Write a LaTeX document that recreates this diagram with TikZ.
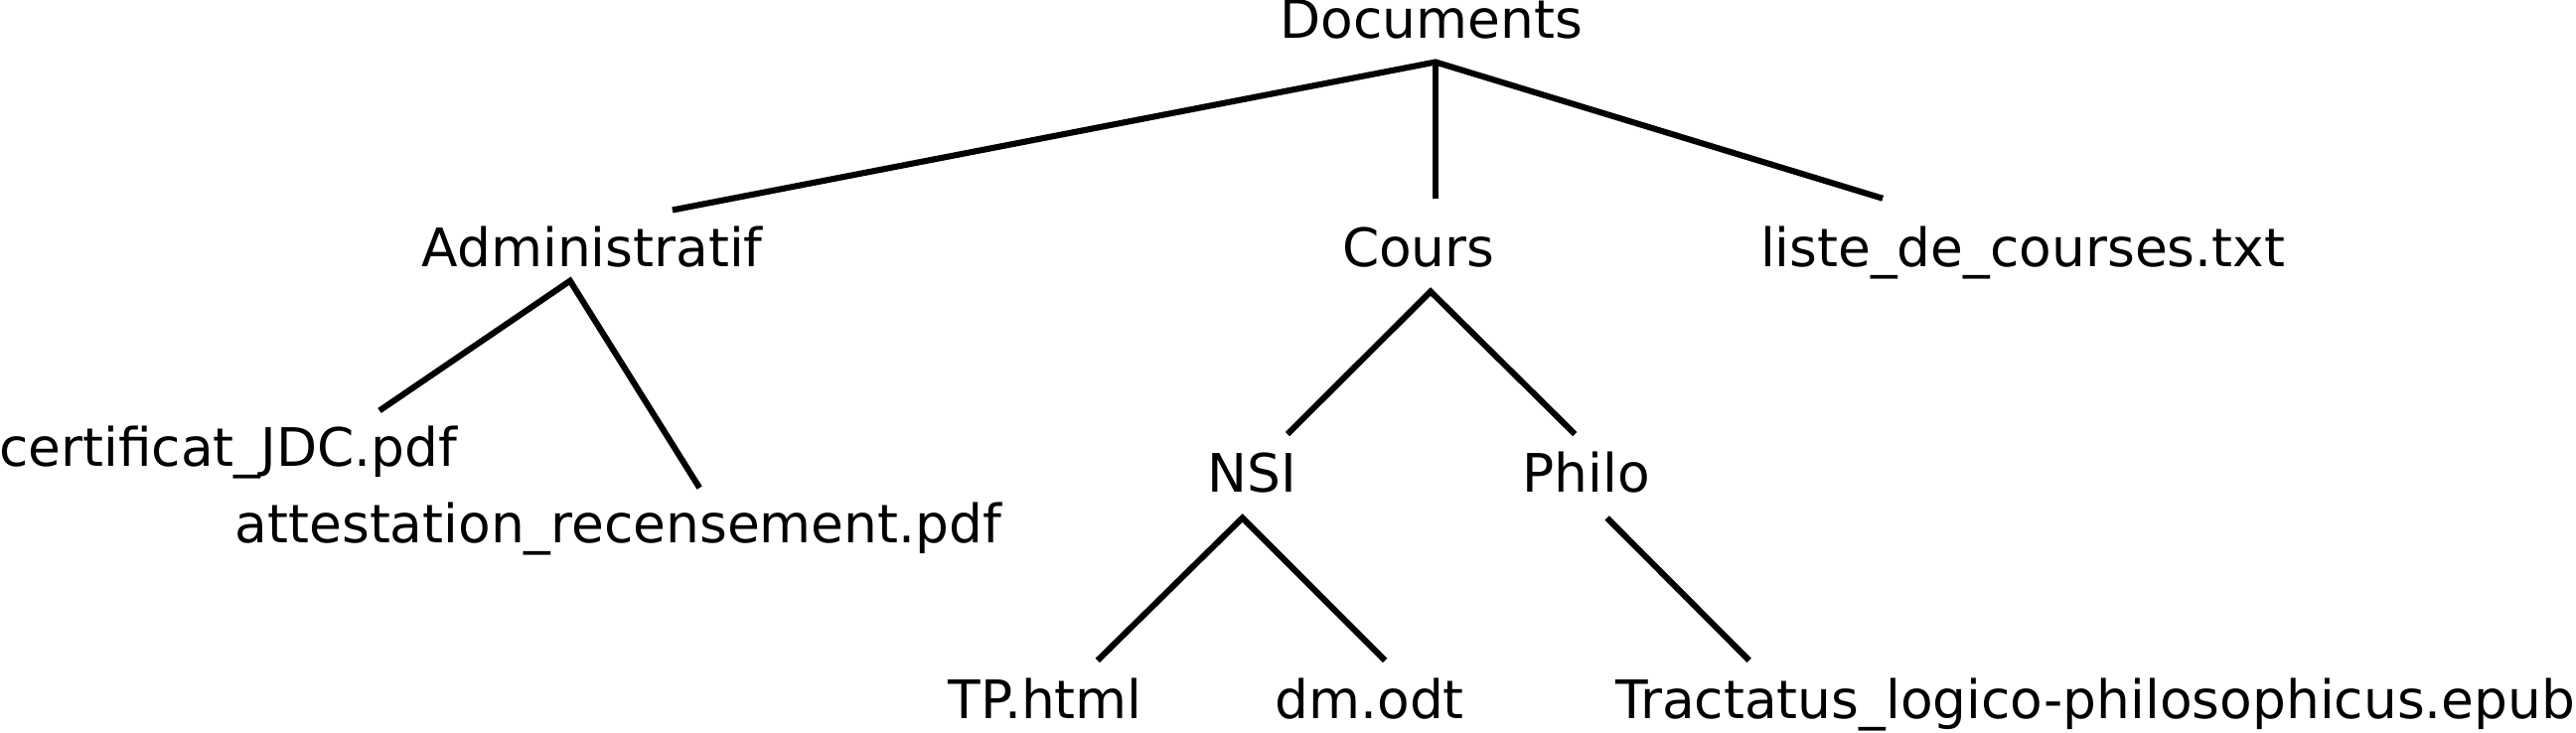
\documentclass[tikz,border=0pt]{standalone}
\usepackage{fontspec}
\setmainfont{DejaVu Sans}
\begin{document}
\begin{tikzpicture}[x=0.01cm,y=-0.01cm,
  lbl/.style={font=\fontsize{9.18pt}{11pt}\selectfont, anchor=base, inner sep=0pt},
  edge/.style={line width=1.05pt, line cap=butt, line join=miter}]
\useasboundingbox (0,0) rectangle (1568,446);
% nodes
\node[lbl] (docs)  at (871.2,23.3)  {Documents};
\node[lbl] (adm)   at (360.5,162.6) {Administratif};
\node[lbl] (cours) at (863.4,162.4) {Cours};
\node[lbl] (liste) at (1231.2,162.4) {liste\_de\_courses.txt};
\node[lbl] (cert)  at (138.9,284)   {certificat\_JDC.pdf};
\node[lbl] (att)   at (376.4,330.5) {attestation\_recensement.pdf};
\node[lbl] (nsi)   at (762.2,299.8) {NSI};
\node[lbl] (philo) at (965.5,299.8) {Philo};
\node[lbl] (tp)    at (636.2,437.7) {TP.html};
\node[lbl] (dm)    at (833.7,437.7) {dm.odt};
\node[lbl] (trac)  at (1275.5,437.7) {Tractatus\_logico-philosophicus.epub};
% connector end points
\coordinate (docs-root)  at (873.8,37.8);
\coordinate (adm-top)    at (409.3,127.9);
\coordinate (cours-top)  at (873.8,120.8);
\coordinate (liste-top)  at (1146,120.8);
\coordinate (adm-root)   at (347,171);
\coordinate (cert-top)   at (231,250);
\coordinate (att-top)    at (425.8,297);
\coordinate (cours-root) at (870.8,177.5);
\coordinate (nsi-top)    at (783.7,264.3);
\coordinate (philo-top)  at (958.6,264.3);
\coordinate (nsi-root)   at (756.3,315.3);
\coordinate (tp-top)     at (668.1,402.1);
\coordinate (dm-top)     at (843.1,402.1);
\coordinate (philo-root) at (978.2,315.3);
\coordinate (trac-top)   at (1064.7,402.1);
% connectors
\draw[edge] (adm-top) -- (docs-root) -- (liste-top);
\draw[edge] (docs-root) -- (cours-top);
\draw[edge] (cert-top) -- (adm-root) -- (att-top);
\draw[edge] (nsi-top) -- (cours-root) -- (philo-top);
\draw[edge] (tp-top) -- (nsi-root) -- (dm-top);
\draw[edge] (philo-root) -- (trac-top);
\end{tikzpicture}
\end{document}
